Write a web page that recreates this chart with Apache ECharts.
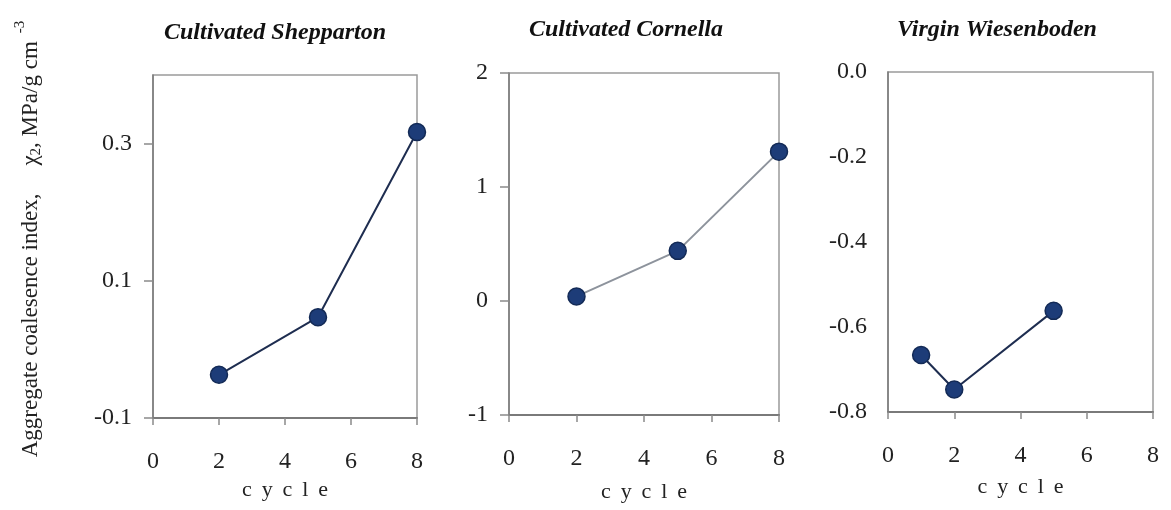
<!DOCTYPE html>
<html>
<head>
<meta charset="utf-8">
<title>Aggregate coalescence index by cycle</title>
<script src="https://cdn.jsdelivr.net/npm/echarts@6/dist/echarts.min.js"></script>
<style>
  html, body { margin: 0; padding: 0; background: #fff; }
  #chart { width: 1171px; height: 510px; }
</style>
</head>
<body>
<div id="chart"></div>
<script>
// Panel titles (soil type)
const panelTitles = ['Cultivated Shepparton', 'Cultivated Cornella', 'Virgin Wiesenboden'];

// Wetting/drying cycle numbers for each soil
const cyclesShepparton = [2, 5, 8];
const cyclesCornella = [2, 5, 8];
const cyclesWiesenboden = [1, 2, 5];

// Aggregate coalescence index chi2 (MPa/g cm^-3)
const chiShepparton = [-0.037, 0.047, 0.317];
const chiCornella = [0.04, 0.44, 1.31];
const chiWiesenboden = [-0.666, -0.747, -0.562];

// Y-axis tick values per panel
const yTicksShepparton = [-0.1, 0.1, 0.3];
const yTicksCornella = [-1, 0, 1, 2];
const yTicksWiesenboden = [-0.8, -0.6, -0.4, -0.2, 0.0];

const serif = '"Liberation Serif", "Times New Roman", serif';
const axisGray = '#8a8a8a';
const navy = '#1d3c78';
const xName = 'c \u2009y \u2009c \u2009l \u2009e';

const chart = echarts.init(document.getElementById('chart'), null, { renderer: 'canvas' });

function pairs(xs, ys) { return xs.map((x, i) => [x, ys[i]]); }

const grids = [
  { left: 153, top: 75, width: 264, height: 343 },
  { left: 509, top: 73, width: 270, height: 342 },
  { left: 888, top: 72, width: 265, height: 340 }
].map(g => Object.assign({
  show: true, borderColor: '#9a9a9a', borderWidth: 1.5, backgroundColor: 'transparent'
}, g));

function xAxisFor(i, nameGap) {
  return {
    type: 'value', gridIndex: i, min: 0, max: 8, interval: 2,
    name: xName, nameLocation: 'middle', nameGap: nameGap,
    nameTextStyle: { fontFamily: serif, fontSize: 22, color: '#222' },
    axisLine: { show: true, onZero: false, lineStyle: { color: '#7a7a7a', width: 2 } },
    axisTick: { show: true, inside: false, length: 7, lineStyle: { color: axisGray, width: 1.5 } },
    axisLabel: { fontFamily: serif, fontSize: 24, color: '#222', margin: 32 },
    splitLine: { show: false }
  };
}

function yAxisFor(i, min, max, ticks, fmt, showTick) {
  return {
    type: 'value', gridIndex: i, min: min, max: max,
    axisLine: { show: true, onZero: false, lineStyle: { color: '#7a7a7a', width: 1.5 } },
    axisTick: { show: showTick, customValues: ticks, length: 9, lineStyle: { color: axisGray, width: 1.5 } },
    axisLabel: { customValues: ticks, fontFamily: serif, fontSize: 24, color: '#222', margin: 21, formatter: fmt },
    splitLine: { show: false }
  };
}

function lineSeries(i, data, lineColor) {
  return {
    type: 'line', xAxisIndex: i, yAxisIndex: i, data: data,
    symbol: 'circle', symbolSize: 17, z: 3,
    lineStyle: { color: lineColor, width: 2 },
    itemStyle: { color: navy, borderColor: '#132a56', borderWidth: 1.5 },
    emphasis: { disabled: true }, animation: false
  };
}

const titleText = (text, x, y) => ({
  type: 'text', x: x, y: y,
  style: {
    text: text, fontFamily: serif, fontStyle: 'italic', fontWeight: 'bold',
    fontSize: 24, fill: '#111', align: 'center', verticalAlign: 'middle'
  }
});

const option = {
  backgroundColor: '#fff',
  animation: false,
  grid: grids,
  xAxis: [xAxisFor(0, 56), xAxisFor(1, 66), xAxisFor(2, 64)],
  yAxis: [
    yAxisFor(0, -0.1, 0.4, yTicksShepparton, v => String(v), true),
    yAxisFor(1, -1, 2, yTicksCornella, v => String(v), true),
    yAxisFor(2, -0.8, 0, yTicksWiesenboden, v => Number(v).toFixed(1), false)
  ],
  series: [
    lineSeries(0, pairs(cyclesShepparton, chiShepparton), '#1e2d50'),
    lineSeries(1, pairs(cyclesCornella, chiCornella), '#8d939c'),
    lineSeries(2, pairs(cyclesWiesenboden, chiWiesenboden), '#1e2d50')
  ],
  graphic: [
    titleText(panelTitles[0], 275, 33),
    titleText(panelTitles[1], 626, 30),
    titleText(panelTitles[2], 997, 30),
    {
      type: 'text', x: 31, y: 239, rotation: Math.PI / 2,
      style: {
        text: '{a|Aggregate coalesence index,}{gap| }{a|χ}{sub|2}{a|, MPa/g cm}{gap2| }{sup|-3}',
        align: 'center', verticalAlign: 'middle',
        fill: '#222',
        rich: {
          a: { fontFamily: serif, fontSize: 23, fill: '#222', lineHeight: 36, verticalAlign: 'middle' },
          gap: { fontFamily: serif, fontSize: 23, width: 28, lineHeight: 36 },
          gap2: { fontFamily: serif, fontSize: 23, width: 8, lineHeight: 36 },
          sub: { fontFamily: serif, fontSize: 15, fill: '#222', lineHeight: 36, verticalAlign: 'bottom', padding: [0, 0, 5, 0] },
          sup: { fontFamily: serif, fontSize: 15, fill: '#222', lineHeight: 36, verticalAlign: 'top' }
        }
      }
    }
  ]
};

chart.setOption(option);
</script>
</body>
</html>
